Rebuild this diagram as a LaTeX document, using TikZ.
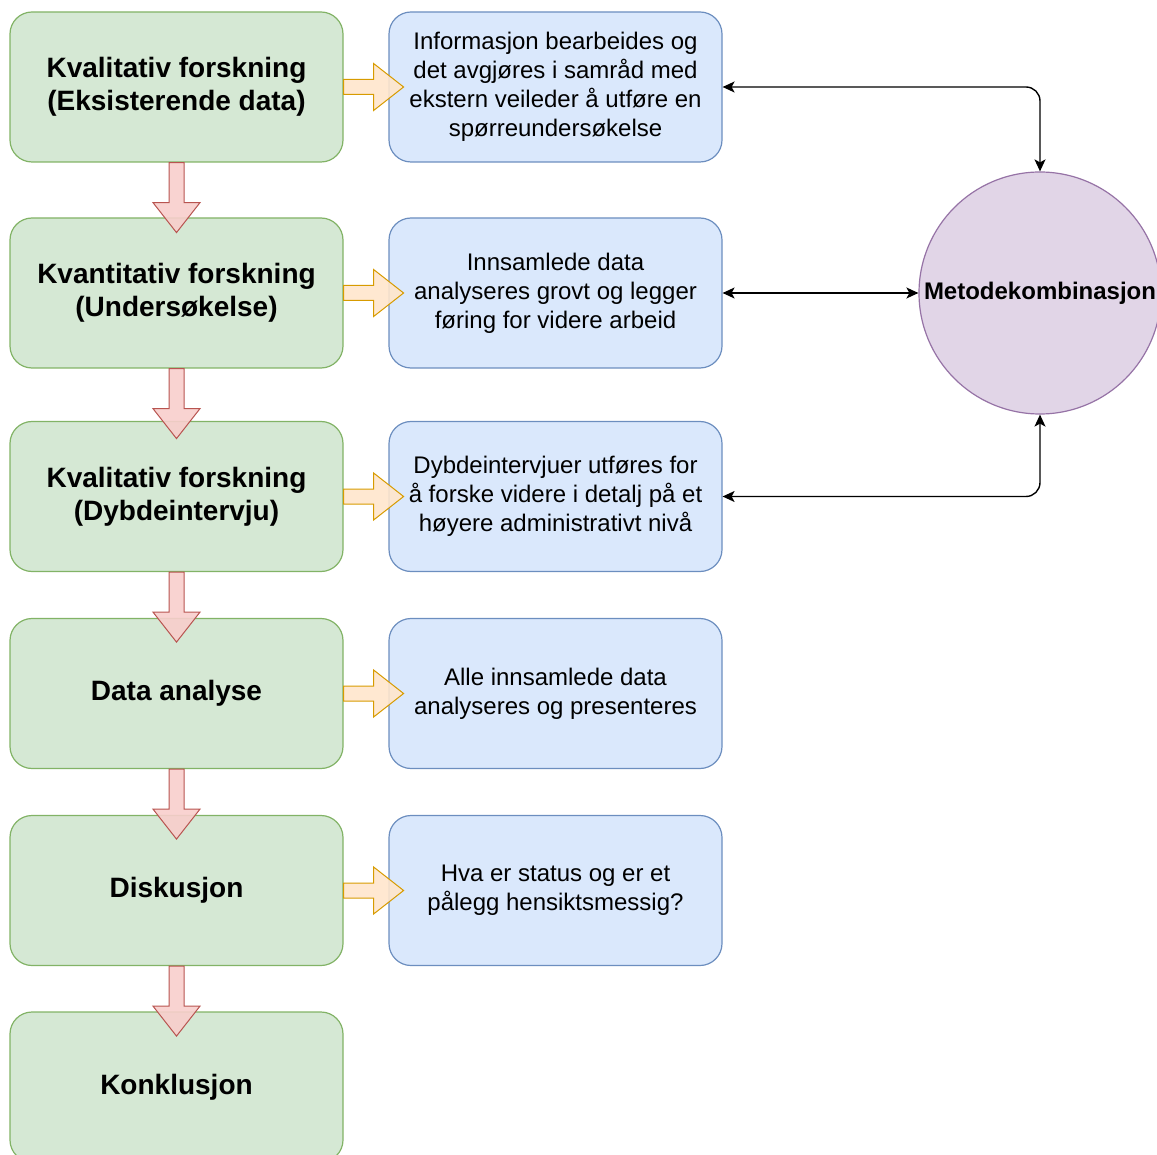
\documentclass[tikz,border=0pt]{standalone}
\usepackage{fontspec}
\setmainfont{Liberation Sans}
\usetikzlibrary{positioning,arrows.meta}

\definecolor{stagefill}{HTML}{D5E8D4}
\definecolor{stageline}{HTML}{82B366}
\definecolor{notefill}{HTML}{DAE8FC}
\definecolor{noteline}{HTML}{6C8EBF}
\definecolor{metafill}{HTML}{E1D5E7}
\definecolor{metaline}{HTML}{9673A6}
\definecolor{downfill}{HTML}{F8CECC}
\definecolor{downline}{HTML}{B85450}
\definecolor{rightfill}{HTML}{FFE6CC}
\definecolor{rightline}{HTML}{D79B00}

\tikzset{
  stage/.style={draw=stageline, fill=stagefill, line width=1.2pt, rounded corners=22pt,
    minimum width=333pt, minimum height=150pt, align=center,
    font=\fontsize{28}{33}\selectfont\bfseries},
  note/.style={draw=noteline, fill=notefill, line width=1.2pt, rounded corners=22pt,
    minimum width=333pt, minimum height=150pt, align=center,
    font=\fontsize{24}{29}\selectfont},
  downarrow/.style={draw=downline, fill=downfill, line width=1pt, line join=miter, fill opacity=0.9},
  rightarrow/.style={draw=rightline, fill=rightfill, line width=1pt, line join=miter, fill opacity=0.9},
  link/.style={{Stealth[length=12pt,width=11pt,inset=3pt]}-{Stealth[length=12pt,width=11pt,inset=3pt]},
    line width=1.4pt, rounded corners=14pt}
}

\begin{document}
\begin{tikzpicture}[x=1pt,y=-1pt]
\useasboundingbox (0,0) rectangle (1157,1155);

% left column
\node[stage] (g1) at (176.5,87) {Kvalitativ forskning\\(Eksisterende data)};
\node[stage] (g2) at (176.5,293) {Kvantitativ forskning\\(Undersøkelse)};
\node[stage] (g3) at (176.5,496.5) {Kvalitativ forskning\\(Dybdeintervju)};
\node[stage] (g4) at (176.5,693.5) {Data analyse};
\node[stage] (g5) at (176.5,890.5) {Diskusjon};
\node[stage] (g6) at (176.5,1087) {Konklusjon};

% right column
\node[note] (b1) at (555.5,87) {Informasjon bearbeides og\\det avgjøres i samråd med\\ekstern veileder å utføre en\\spørreundersøkelse};
\node[note] (b2) at (555.5,293) {Innsamlede data\\analyseres grovt og legger\\føring for videre arbeid};
\node[note] (b3) at (555.5,496.5) {Dybdeintervjuer utføres for\\å forske videre i detalj på et\\høyere administrativt nivå};
\node[note] (b4) at (555.5,693.5) {Alle innsamlede data\\analyseres og presenteres};
\node[note] (b5) at (555.5,890.5) {Hva er status og er et\\pålegg hensiktsmessig?};

\node[circle, draw=metaline, fill=metafill, line width=1.2pt, minimum size=242pt, inner sep=0pt,
  font=\fontsize{24}{28}\selectfont\bfseries] (meta) at (1040,293) {Metodekombinasjon};

% block arrows
\foreach \a in {g1,g2,g3,g4,g5}
  \draw[downarrow] (\a.south) ++(-7.5,0) -- ++(0,40) -- ++(-16,0) -- ++(23.5,30)
    -- ++(23.5,-30) -- ++(-16,0) -- ++(0,-40) -- cycle;
\foreach \a in {g1,g2,g3,g4,g5}
  \draw[rightarrow] (\a.east) ++(0,-7.5) -- ++(30,0) -- ++(0,-16) -- ++(30,23.5)
    -- ++(-30,23.5) -- ++(0,-16) -- ++(-30,0) -- cycle;

% links to the circle
\draw[link] (b1.east) -| (meta.north);
\draw[link] (b2.east) -- (meta.west);
\draw[link] (b3.east) -| (meta.south);
\end{tikzpicture}
\end{document}
